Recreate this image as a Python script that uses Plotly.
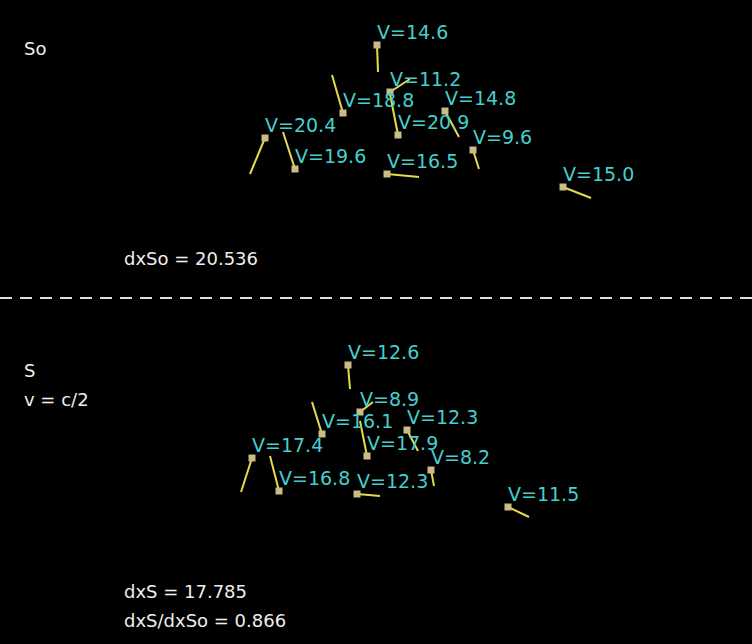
import plotly.graph_objects as go

# particle positions (screen px) and velocity-vector ends, frame So
so_x = [377, 390, 343, 398, 445, 265, 295, 473, 387, 563]
so_y = [45, 92, 113, 135, 111, 138, 169, 150, 174, 187]
so_ex = [378, 410, 332, 390, 459, 250, 283, 479, 419, 591]
so_ey = [72, 79, 75, 94, 137, 174, 132, 169, 177, 198]
so_v = ["14.6", "11.2", "18.8", "20.9", "14.8", "20.4", "19.6", "9.6", "16.5", "15.0"]

# frame S, moving at v = c/2
s_x = [348, 360, 322, 367, 407, 252, 279, 431, 357, 508]
s_y = [365, 412, 434, 456, 430, 458, 491, 470, 494, 507]
s_ex = [350, 373, 312, 360, 418, 241, 270, 434, 380, 529]
s_ey = [389, 402, 402, 421, 451, 492, 456, 486, 496, 517]
s_v = ["12.6", "8.9", "16.1", "17.9", "12.3", "17.4", "16.8", "8.2", "12.3", "11.5"]

texts = ["So", "dxSo = 20.536", "S", "v = c/2", "dxS = 17.785", "dxS/dxSo = 0.866"]
text_x = [22, 122, 22, 22, 122, 122]
text_y = [48, 258, 370, 399, 591, 620]
divider_y = 298

W, H = 752, 644
FONT = "DejaVu Sans"

fig = go.Figure()
annotations = []

for xs, ys, exs, eys, vs in [(so_x, so_y, so_ex, so_ey, so_v), (s_x, s_y, s_ex, s_ey, s_v)]:
    lx, ly = [], []
    for x, y, ex, ey in zip(xs, ys, exs, eys):
        lx += [x, ex, None]
        ly += [y, ey, None]
    fig.add_trace(go.Scatter(x=lx, y=ly, mode="lines",
                             line=dict(color="#e6dc4a", width=2), hoverinfo="skip"))
    fig.add_trace(go.Scatter(x=xs, y=ys, mode="markers",
                             marker=dict(symbol="square", size=7, color="#cbbb86",
                                         line=dict(width=0)), hoverinfo="skip"))
    for x, y, v in zip(xs, ys, vs):
        annotations.append(dict(x=x - 2, y=y, text="V=" + v, showarrow=False,
                                xanchor="left", yanchor="middle", yshift=13,
                                font=dict(family=FONT, size=19, color="#45cfcf")))

fig.add_trace(go.Scatter(x=[0, W], y=[divider_y, divider_y], mode="lines",
                         line=dict(color="#e0e0e0", width=2, dash="12px,8px"),
                         hoverinfo="skip"))

for t, x, y in zip(texts, text_x, text_y):
    annotations.append(dict(x=x, y=y, text=t, showarrow=False,
                            xanchor="left", yanchor="middle",
                            font=dict(family=FONT, size=18, color="#eeeeee")))

fig.update_layout(
    width=W, height=H,
    margin=dict(l=0, r=0, t=0, b=0),
    paper_bgcolor="black", plot_bgcolor="black",
    showlegend=False,
    annotations=annotations,
    xaxis=dict(range=[0, W], visible=False, fixedrange=True),
    yaxis=dict(range=[H, 0], visible=False, fixedrange=True),
)

fig.write_html("out.html", config={"displayModeBar": False},
               post_script="document.body.style.margin='0';document.body.style.background='black';")
